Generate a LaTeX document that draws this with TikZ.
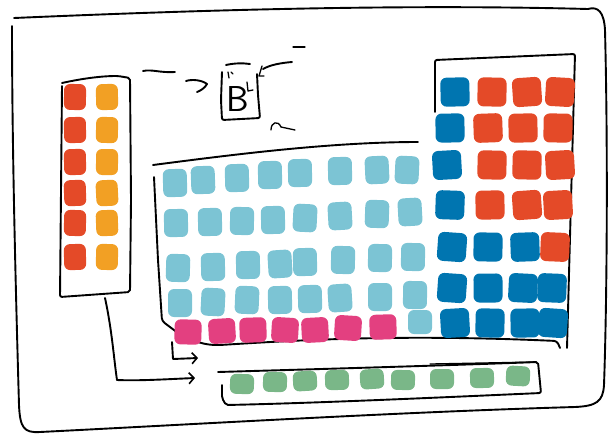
\documentclass[tikz,border=0pt]{standalone}
\usetikzlibrary{arrows.meta}
\definecolor{cred}{RGB}{228,74,40}
\definecolor{corange}{RGB}{242,160,36}
\definecolor{ccyan}{RGB}{124,196,212}
\definecolor{cblue}{RGB}{0,117,176}
\definecolor{cpink}{RGB}{227,64,128}
\definecolor{cgreen}{RGB}{122,183,136}
\tikzset{
  ink/.style={draw=black,line width=1.9pt,line cap=round,line join=round},
  thin ink/.style={draw=black,line width=1.3pt,line cap=round,line join=round},
  blob/.style={rectangle,rounded corners=6pt,inner sep=0pt,draw=none},
  sblob/.style={blob,minimum width=22pt,minimum height=26pt},
  dblob/.style={blob,minimum width=24pt,minimum height=28pt,fill=ccyan},
  pblob/.style={blob,minimum width=29pt,minimum height=29pt},
  fblob/.style={blob,minimum width=24pt,minimum height=20pt,fill=cgreen},
  barb/.style={-{Straight Barb[length=5pt,width=11pt,line width=1.6pt]}},
}
\begin{document}
\begin{tikzpicture}[x=1pt,y=-1pt]
\useasboundingbox (0,0) rectangle (610,437);
\pgfmathsetseed{7}
% outer frame
\draw[ink] (14,18) .. controls (200,10) and (400,4) .. (588,9)
  .. controls (598,6) and (604,12) .. (605,30)
  .. controls (608,150) and (607,300) .. (604,385)
  .. controls (603,402) and (596,406) .. (575,407)
  .. controls (400,412) and (200,424) .. (40,432)
  .. controls (24,433) and (20,428) .. (19,405)
  .. controls (16,300) and (12,150) .. (12,26);
% s-block box
\draw[ink,rounded corners=2pt] (62,83) .. controls (80,79) and (100,76) .. (118,76) -- (130,78) -- (131,200) -- (130,292) -- (60,297) -- (62,86);
% s-block squares
\foreach \y [count=\i] in {97,130,162,193,223,257}{
  \node[sblob,fill=cred,rotate={3*rand}] (sa\i) at (75,\y) {};
  \node[sblob,fill=corange,rotate={3*rand}] (sb\i) at (107,\y) {};
}
% main (d-block) box
\draw[ink] (153,165) .. controls (230,155) and (330,142) .. (418,142);
\draw[ink,rounded corners=3pt] (154,177) -- (158,260) -- (162,321) -- (178,333) .. controls (195,342) and (205,345) .. (220,345) .. controls (300,340) and (400,334) .. (557,341) -- (560,348);
% p-block box
\draw[ink,rounded corners=2pt] (435,112) -- (435,60) -- (575,54) -- (571,200) -- (567,348);
% d-block squares
\foreach \x/\y [count=\i] in {175/183,203/180,237/178,270/175,300/173,340/171,377/170,407/170}{
  \node[dblob,rotate={4*rand}] (da\i) at (\x,\y) {};}
\foreach \x/\y [count=\i] in {176/223,210/222,242/221,273/220,305/218,340/216,377/214,410/212}{
  \node[dblob,rotate={4*rand}] (db\i) at (\x,\y) {};}
\foreach \x/\y [count=\i] in {178/268,213/267,248/265,280/264,305/262,343/260,380/258,413/257}{
  \node[dblob,rotate={4*rand}] (dc\i) at (\x,\y) {};}
\foreach \x/\y [count=\i] in {180/303,213/302,247/300,280/300,310/299,340/298,380/297,415/295}{
  \node[dblob,rotate={4*rand}] (dd\i) at (\x,\y) {};}
\foreach \x/\y [count=\i] in {188/332,222/331,253/330,285/330,315/330,348/328,383/327}{
  \node[dblob,fill=cpink,minimum width=27pt,minimum height=25pt,rotate={4*rand}] (de\i) at (\x,\y) {};}
\node[dblob,minimum height=24pt] (de8) at (420,322) {};
% p-block squares
\foreach \row/\y/\a/\b/\c/\d/\ca/\cb/\cc/\cd in {
  1/92/455/492/527/560/cblue/cred/cred/cred,
  2/128/450/488/523/558/cblue/cred/cred/cred,
  3/165/447/492/527/560/cblue/cred/cred/cred,
  4/205/450/490/527/558/cblue/cred/cred/cred,
  5/247/452/488/525/555/cblue/cblue/cblue/cred,
  6/288/452/488/523/552/cblue/cblue/cblue/cblue,
  7/323/455/490/525/553/cblue/cblue/cblue/cblue}{
  \node[pblob,fill=\ca,rotate={4*rand}] (pa\row) at (\a,\y) {};
  \node[pblob,fill=\cb,rotate={4*rand}] (pb\row) at (\b,\y) {};
  \node[pblob,fill=\cc,rotate={4*rand}] (pc\row) at (\c,\y) {};
  \node[pblob,fill=\cd,rotate={4*rand}] (pd\row) at (\d,\y) {};
}
% f-block box
\draw[ink,rounded corners=2pt] (218,372) .. controls (320,369) and (430,366) .. (538,362) -- (541,393) .. controls (450,397) and (320,403) .. (226,405) -- (222,398) -- (222,385);
\draw[thin ink] (430,364) -- (536,362);
% f-block squares
\foreach \x/\y [count=\i] in {242/384,275/382,305/381,337/380,372/379,403/380,442/379,482/378,518/376}{
  \node[fblob,rotate={4*rand}] (f\i) at (\x,\y) {};}
% arrows
\coordinate (a1s) at (172,342);
\coordinate (a1k) at (173,359);
\coordinate (a1e) at (198,358);
\draw[ink,barb] (a1s) -- (a1k) -- (a1e);
\coordinate (a2s) at (105,298);
\coordinate (a2k) at (117,380);
\coordinate (a2e) at (195,378);
\draw[ink,barb] (a2s) .. controls (112,330) and (114,360) .. (a2k) .. controls (140,381) and (170,379) .. (a2e);
% annotation around B
\node[font=\sffamily\fontsize{36}{36}\selectfont,inner sep=0pt] (B) at (238,99) {B};
\draw[ink,rounded corners=2pt] (222,72) -- (221,100) -- (222,120) -- (260,118) -- (258,95) -- (257,74);
\draw[ink] (226,65) .. controls (235,63) and (243,63) .. (250,64);
\draw[thin ink] (247,82) -- (248,91) -- (253,90);
\draw[thin ink] (228,72) -- (229,78);
\draw[thin ink] (231,72) -- (233,74);
\draw[ink] (143,71) .. controls (152,69) and (160,73) .. (175,72);
\draw[ink] (186,81) .. controls (192,79) and (202,80) .. (207,84) .. controls (205,88) and (200,91) .. (197,92);
\draw[ink] (292,62) .. controls (280,63) and (270,65) .. (263,69);
\draw[thin ink] (262,66) -- (259,76) -- (264,76);
\draw[thin ink] (293,47) -- (305,47);
\draw[thin ink] (271,130) .. controls (271,122) and (278,120) .. (281,127) -- (295,130);
\end{tikzpicture}
\end{document}
